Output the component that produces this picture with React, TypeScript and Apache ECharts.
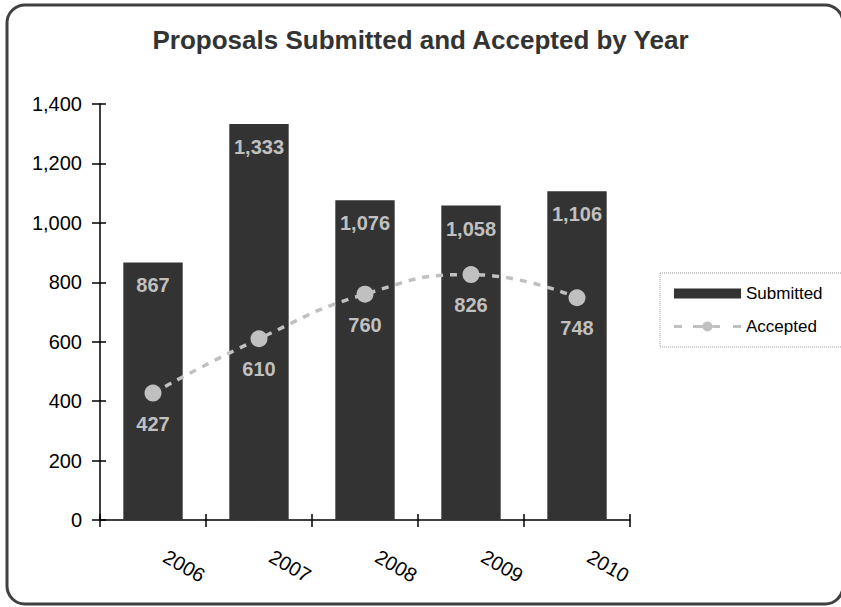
import React, { useEffect, useRef } from "react";
import * as echarts from "echarts";

const years = ["2006", "2007", "2008", "2009", "2010"];
const submitted = [867, 1333, 1076, 1058, 1106];
const accepted = [427, 610, 760, 826, 748];
const yTicks = { min: 0, max: 1400, interval: 200 };

const fmt = (v: number) => String(v).replace(/\B(?=(\d{3})+(?!\d))/g, ",");

const acceptedIcon =
  "path://M0 3.5H8V6.5H0Z M19 3.5H28.5V6.5H19Z M28.5 5A5 5 0 1 0 38.5 5A5 5 0 1 0 28.5 5Z M38.5 3.5H46V6.5H38.5Z M59 3.5H67V6.5H59Z";

export default function App() {
  const ref = useRef<HTMLDivElement>(null);
  useEffect(() => {
    if (!ref.current) return;
    const chart = echarts.init(ref.current, undefined, { renderer: "svg" });
    const font = "Arial, 'Liberation Sans', sans-serif";
    chart.setOption({
      animation: false,
      backgroundColor: "#ffffff",
      textStyle: { fontFamily: font },
      title: {
        text: "Proposals Submitted and Accepted by Year",
        left: "center",
        top: 27,
        padding: 0,
        textStyle: { fontSize: 26, fontWeight: "bold", color: "#333333", fontFamily: font },
      },
      graphic: [
        {
          type: "rect",
          shape: { x: 7, y: 5, width: 836, height: 599, r: 18 },
          style: { fill: "none", stroke: "#404040", lineWidth: 3 },
          z: 100,
        },
      ],
      legend: {
        orient: "vertical",
        left: 660,
        top: 273,
        padding: [12, 60, 12, 14],
        itemWidth: 67,
        itemHeight: 10,
        itemGap: 16,
        borderColor: "#999999",
        borderWidth: 1,
        borderType: "dotted",
        textStyle: { fontSize: 17, color: "#000000", fontFamily: font },
        data: [
          { name: "Submitted", icon: "rect" },
          { name: "Accepted", icon: acceptedIcon, itemStyle: { color: "#c0c0c0", borderWidth: 0 } },
        ],
      },
      grid: { left: 100, right: 211, top: 104, bottom: 87 },
      xAxis: [
        {
          type: "category",
          data: years,
          boundaryGap: true,
          axisLine: { lineStyle: { color: "#000000", width: 1.5 } },
          axisTick: { show: true, length: 7, lineStyle: { color: "#000000", width: 1.5 } },
          axisLabel: {
            rotate: -30,
            align: "center",
            verticalAlign: "middle",
            margin: 28,
            padding: [0, 0, 0, 72],
            fontSize: 20,
            color: "#000000",
            fontFamily: font,
          },
        },
        {
          type: "category",
          data: years,
          position: "bottom",
          boundaryGap: true,
          axisLine: { show: false },
          axisTick: { show: true, inside: true, length: 6, lineStyle: { color: "#000000", width: 1.5 } },
          axisLabel: { show: false },
        },
      ],
      yAxis: [
        {
          type: "value",
          min: yTicks.min,
          max: yTicks.max,
          interval: yTicks.interval,
          splitLine: { show: false },
          axisLine: { show: true, lineStyle: { color: "#000000", width: 1.5 } },
          axisTick: { show: true, length: 8, lineStyle: { color: "#000000", width: 1.5 } },
          axisLabel: {
            margin: 18,
            fontSize: 20,
            color: "#000000",
            fontFamily: font,
            formatter: (v: number) => fmt(v),
          },
        },
        {
          type: "value",
          position: "left",
          min: yTicks.min,
          max: yTicks.max,
          interval: yTicks.interval,
          splitLine: { show: false },
          axisLine: { show: false },
          axisTick: { show: true, inside: true, length: 6, lineStyle: { color: "#000000", width: 1.5 } },
          axisLabel: { show: false },
        },
      ],
      series: [
        {
          name: "Submitted",
          type: "bar",
          data: submitted,
          barWidth: "56%",
          itemStyle: { color: "#333333" },
          label: {
            show: true,
            position: "insideTop",
            distance: 13,
            fontSize: 20,
            fontWeight: "bold",
            color: "#c0c0c0",
            fontFamily: font,
            formatter: (p: any) => fmt(p.value),
          },
        },
        {
          name: "Accepted",
          type: "line",
          data: accepted,
          smooth: 0.5,
          symbol: "circle",
          symbolSize: 17,
          itemStyle: { color: "#c0c0c0" },
          lineStyle: { color: "#c0c0c0", width: 3.5, type: [7, 7] },
          label: {
            show: true,
            position: "bottom",
            distance: 12,
            fontSize: 20,
            fontWeight: "bold",
            color: "#c0c0c0",
            fontFamily: font,
            formatter: (p: any) => fmt(p.value),
          },
          z: 3,
        },
      ],
    });
    return () => chart.dispose();
  }, []);
  return (
    <div
      ref={ref}
      style={{ position: "fixed", left: 0, top: 0, width: 841, height: 607 }}
    />
  );
}
